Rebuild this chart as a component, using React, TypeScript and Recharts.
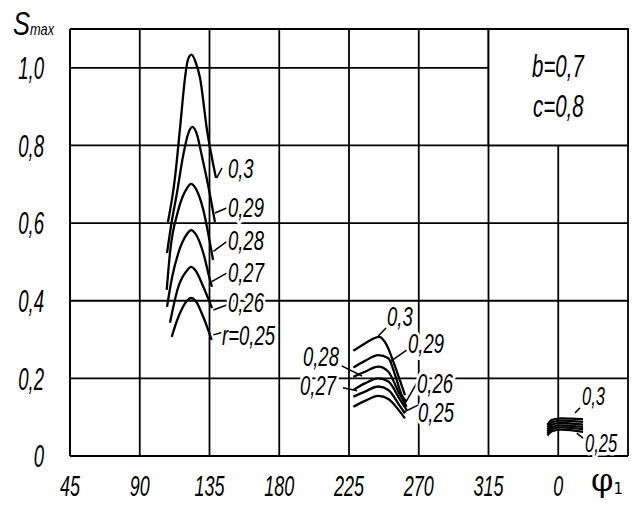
import React from 'react';
import { ComposedChart, Line, Scatter, XAxis, YAxis, CartesianGrid, ReferenceLine, ReferenceArea } from 'recharts';

const FONT = "'Liberation Sans', Arial, sans-serif";

// phi1 axis in degrees, 360 is printed as 0, 405 carries the axis name
const xTicks = [45, 90, 135, 180, 225, 270, 315, 360, 405];
const yTicks = [0, 0.2, 0.4, 0.6, 0.8, 1.0];

// left group (phi1 ~ 110..140), r = 0.25 ... 0.3
const left25 = [[110.6, 0.307], [114.9, 0.358], [120.5, 0.4], [123.1, 0.407], [126, 0.4], [131, 0.358], [136.4, 0.299]];
const left26 = [[109.5, 0.343], [114.9, 0.436], [120.5, 0.478], [123.1, 0.487], [126, 0.478], [131, 0.436], [136.6, 0.381]];
const left27 = [[107.6, 0.384], [110.8, 0.459], [114.9, 0.523], [120.5, 0.572], [123.1, 0.582], [126, 0.572], [131, 0.523], [135.3, 0.454], [136.6, 0.436]];
const left28 = [[107.4, 0.428], [109.5, 0.523], [114.9, 0.634], [120.5, 0.69], [123.1, 0.701], [126, 0.69], [131, 0.634], [135.3, 0.549], [137.3, 0.505]];
const left29 = [[107.6, 0.523], [110.8, 0.608], [113.8, 0.673], [118.1, 0.776], [121.2, 0.83], [123.9, 0.848], [126.8, 0.83], [129.9, 0.776], [135.3, 0.673], [138.5, 0.603]];
const left30 = [[108.2, 0.603], [112.7, 0.716], [116, 0.845], [119.2, 0.974], [121, 1.02], [123.4, 1.034], [126, 1.015], [128.9, 0.974], [133.2, 0.845], [139.2, 0.716]];

// middle group (phi1 ~ 228..262)
const mid25 = [[227.8, 0.127], [235.3, 0.142], [243.9, 0.155], [250.4, 0.147], [258.1, 0.113], [261.1, 0.097]];
const mid26 = [[227.8, 0.153], [235.3, 0.166], [243.9, 0.179], [250.4, 0.17], [258.1, 0.127], [261.1, 0.11]];
const mid27 = [[227.8, 0.17], [235.3, 0.187], [243.9, 0.2], [250.4, 0.192], [258.1, 0.144], [262.2, 0.119]];
const mid28 = [[227.8, 0.204], [235.3, 0.217], [243.9, 0.23], [250.4, 0.217], [256.8, 0.166], [262.2, 0.127]];
const mid29 = [[227.8, 0.228], [235.3, 0.245], [243.9, 0.26], [250.4, 0.252], [254.7, 0.209], [259, 0.157], [262.2, 0.14]];
const mid30 = [[227.8, 0.271], [235.3, 0.29], [244.5, 0.307], [249.3, 0.286], [253.6, 0.243], [258.1, 0.192], [261.1, 0.157]];

// right group (phi1 ~ 353..376)
const right25 = [[353, 0.053], [356, 0.064], [362, 0.068], [376, 0.062]];
const right26 = [[353, 0.058], [356, 0.07], [362, 0.074], [376, 0.069]];
const right27 = [[353, 0.063], [356, 0.075], [362, 0.079], [376, 0.075]];
const right28 = [[353, 0.068], [356, 0.081], [362, 0.085], [376, 0.081]];
const right29 = [[353, 0.074], [356, 0.087], [362, 0.091], [376, 0.088]];
const right30 = [[353, 0.08], [356, 0.093], [362, 0.097], [376, 0.095]];

const curves = [
  left25, left26, left27, left28, left29, left30,
  mid25, mid26, mid27, mid28, mid29, mid30,
  right25, right26, right27, right28, right29, right30,
];

// curve labels: [phi1, S, text]
const leftLabels = [[146.9, 0.741, '0,3'], [146.9, 0.642, '0,29'], [146.9, 0.557, '0,28'], [146.9, 0.474, '0,27'], [146.9, 0.398, '0,26'], [143.1, 0.312, 'r=0,25']];
const midLabels = [[249.5, 0.36, '0,3'], [263.1, 0.291, '0,29'], [195.3, 0.258, '0,28'], [193.4, 0.182, '0,27'], [268.9, 0.187, '0,26'], [269.5, 0.114, '0,25']];
const rightLabels = [[375.3, 0.155, '0,3'], [377.3, 0.034, '0,25']];
const paramLabels = [[343.1, 1.005, 'b=0,7'], [343.7, 0.902, 'c=0,8']];

// leader lines: [x1, y1, x2, y2]
const leaders = [
  [139.6, 0.716, 143.1, 0.742], [138.5, 0.626, 146.1, 0.639], [137.5, 0.527, 146.1, 0.552],
  [136.4, 0.449, 146.1, 0.471], [137.5, 0.376, 146.1, 0.389], [137.5, 0.312, 142.9, 0.318],
  [243.9, 0.309, 248.9, 0.33], [251.5, 0.243, 262.2, 0.273], [220.3, 0.232, 233.4, 0.206],
  [221.1, 0.176, 230.2, 0.168], [261.1, 0.135, 268.7, 0.188], [259.8, 0.112, 269.5, 0.131],
  [370.8, 0.111, 374, 0.124], [371.9, 0.059, 376, 0.046],
];

const pts = (a: number[][]) => a.map(([x, y]) => ({ x, y }));
const lbls = (a: any[][]) => a.map(([x, y, t]) => ({ x, y, t }));
const curveLabels = [...lbls(leftLabels), ...lbls(midLabels)];
const smallLabels = lbls(rightLabels);
const boxLabels = lbls(paramLabels);

const fmtY = (v: number) => (v === 0 ? '0' : v.toFixed(1).replace('.', ','));

// narrow italic lettering, like the drafting font of the original
const G = ({ x, y, size = 26, anchor = 'start', halo = false, sx = 0.66, children }: any) => (
  <text transform={`translate(${x},${y}) scale(${sx},1)`} dy="0.36em" textAnchor={anchor}
    fontFamily={FONT} fontStyle="italic" fontSize={size} fill="#000"
    stroke={halo ? '#fff' : 'none'} strokeWidth={halo ? 7 : 0} strokeLinejoin="round"
    style={{ paintOrder: 'stroke' }}>
    {children}
  </text>
);

const YTick = ({ x, y, payload }: any) => (
  <G x={x - 18} y={y} size={31} sx={0.6} anchor="end">{fmtY(payload.value)}</G>
);

const XTick = ({ x, y, payload }: any) => {
  if (payload.value === 405) {
    return (
      <text x={x - 37} y={y + 27} fontFamily="'DejaVu Serif', serif" fontSize={32} fill="#000">
        φ<tspan fontFamily="'DejaVu Sans', sans-serif" fontSize={15} dy={3}>1</tspan>
      </text>
    );
  }
  return <G x={x} y={y + 22} size={29} sx={0.62} anchor="middle">{payload.value === 360 ? '0' : String(payload.value)}</G>;
};

const makeLabel = (size: number, halo: boolean) => (p: any) => (
  <G x={p.cx} y={p.cy} size={size} halo={halo}>{p.payload.t}</G>
);

const AxisName = () => (
  <text transform="translate(13,35) scale(0.75,1)" fontFamily={FONT} fontStyle="italic" fontSize={34} fill="#000">
    S<tspan fontSize={17}>max</tspan>
  </text>
);

export default function App() {
  return (
    <div style={{ position: 'absolute', left: 0, top: 0, background: '#fff' }}>
      <ComposedChart width={635} height={506} margin={{ top: 29, right: 7, bottom: 0, left: 0 }}>
        <CartesianGrid stroke="#000" strokeWidth={1.8} />
        <XAxis type="number" dataKey="x" domain={[45, 405]} ticks={xTicks} interval={0}
          axisLine={{ stroke: '#000', strokeWidth: 1.8 }} tickLine={false} tick={<XTick />} height={50} />
        <YAxis type="number" domain={[0, 1.1]} ticks={yTicks} interval={0} width={70}
          axisLine={{ stroke: '#000', strokeWidth: 1.8 }} tickLine={false} tick={<YTick />}
          label={<AxisName />} />
        <ReferenceLine y={1.1} stroke="#000" strokeWidth={1.8} />
        <ReferenceArea x1={315} x2={405} y1={0.8} y2={1.1} fill="#fff" fillOpacity={1} stroke="#000" strokeWidth={1.8} />
        <Scatter data={boxLabels} dataKey="y" shape={makeLabel(31, false)} isAnimationActive={false} />
        <Scatter data={curveLabels} dataKey="y" shape={makeLabel(28, true)} isAnimationActive={false} />
        <Scatter data={smallLabels} dataKey="y" shape={makeLabel(25, true)} isAnimationActive={false} />
        {leaders.map(([x1, y1, x2, y2], i) => (
          <ReferenceLine key={'l' + i} segment={[{ x: x1, y: y1 }, { x: x2, y: y2 }]} stroke="#000" strokeWidth={1.5} />
        ))}
        {curves.map((c, i) => (
          <Line key={i} data={pts(c)} dataKey="y" type="monotone" stroke="#000" strokeWidth={2.3}
            dot={false} activeDot={false} isAnimationActive={false} />
        ))}
      </ComposedChart>
    </div>
  );
}
